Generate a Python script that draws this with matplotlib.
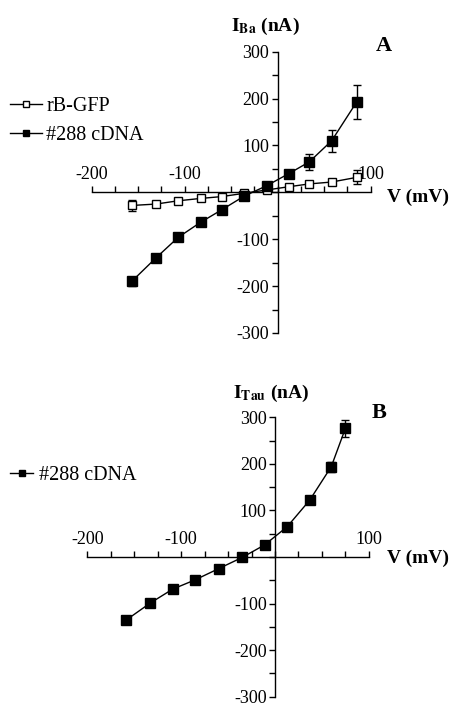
import numpy as np
import matplotlib
matplotlib.use("Agg")
from matplotlib import pyplot as plt
from matplotlib.ticker import FixedLocator, MultipleLocator

plt.rcParams['font.family'] = ['Liberation Serif', 'DejaVu Serif']
plt.rcParams['mathtext.fontset'] = 'stix'
plt.rcParams['axes.unicode_minus'] = False

# ---- dati ----
# pannello A (I_Ba)
vA = [-157, -131, -107, -83, -60, -36, -12, 12, 34, 58, 85]
ibA_288 = [-190, -140, -96, -64, -37, -8, 14, 40, 65, 110, 193]
errA_288 = [10, 5, 4, 4, 4, 4, 4, 4, 17, 23, 36]
ibA_gfp = [-28, -25, -18, -13, -9, -2, 5, 12, 18, 22, 32]
errA_gfp = [11, 4, 4, 4, 4, 4, 4, 4, 4, 4, 15]

# pannello B (I_Tau)
vB = [-159, -133, -109, -85, -60, -35, -11, 13, 37, 60, 75]
itB_288 = [-136, -99, -69, -49, -25, -1, 26, 65, 122, 194, 276]
errB_288 = [4, 4, 4, 4, 4, 4, 4, 4, 5, 11, 18]

xticks_lab = [-200, -100, 100]
yticks_lab = [-300, -200, -100, 100, 200, 300]

fig = plt.figure(figsize=(4.52, 7.05), dpi=100)
axA = fig.add_axes([91.7/452, 1-333/705, 279/452, 281.3/705])
axB = fig.add_axes([87.3/452, 1-696.7/705, 281.5/452, 279.4/705])


def assi(ax):
    ax.set_xlim(-200, 100)
    ax.set_ylim(-300, 300)
    for s in ['top', 'right']:
        ax.spines[s].set_visible(False)
    ax.spines['left'].set_position(('data', 0))
    ax.spines['bottom'].set_position(('data', 0))
    ax.spines['left'].set_linewidth(1)
    ax.spines['bottom'].set_linewidth(1)
    ax.xaxis.set_major_locator(FixedLocator(xticks_lab))
    ax.xaxis.set_minor_locator(MultipleLocator(25))
    ax.yaxis.set_major_locator(FixedLocator(yticks_lab))
    ax.yaxis.set_minor_locator(MultipleLocator(50))
    ax.tick_params(axis='x', which='both', direction='in', length=4, width=1,
                   pad=-19, labelsize=13)
    ax.tick_params(axis='y', which='both', direction='out', length=4, width=1,
                   pad=2, labelsize=13)
    ax.patch.set_alpha(0)


assi(axA)
assi(axB)

# pannello A
axA.errorbar(vA, ibA_288, yerr=errA_288, fmt='none', ecolor='black',
             elinewidth=1, capsize=2.8, capthick=1, zorder=2)
axA.errorbar(vA, ibA_gfp, yerr=errA_gfp, fmt='none', ecolor='black',
             elinewidth=1, capsize=2.8, capthick=1, zorder=2)
axA.plot(vA, ibA_gfp, '-s', color='black', mfc='white', mec='black', ms=6,
         mew=1, lw=1, label='rB-GFP', zorder=3)
axA.plot(vA, ibA_288, '-s', color='black', mfc='black', ms=6.5, lw=1,
         label='#288 cDNA', zorder=3)

# pannello B
axB.errorbar(vB, itB_288, yerr=errB_288, fmt='none', ecolor='black',
             elinewidth=1, capsize=2.8, capthick=1, zorder=2)
axB.plot(vB, itB_288, '-s', color='black', mfc='black', ms=6.5, lw=1,
         label='#288 cDNA', zorder=3)

axA.legend(loc='upper left', bbox_to_anchor=(10/452, 1-97/705),
           bbox_transform=fig.transFigure, frameon=False, fontsize=14.5,
           borderpad=0, borderaxespad=0, handlelength=1.6, handletextpad=0.2,
           labelspacing=0.5, markerscale=0.7)
axB.legend(loc='upper left', bbox_to_anchor=(10/452, 1-466/705),
           bbox_transform=fig.transFigure, frameon=False, fontsize=14.5,
           borderpad=0, borderaxespad=0, handlelength=1.15, handletextpad=0.3,
           markerscale=0.7)

# etichette
fig.text(265/452, 1-26/705, r'$\mathbf{I}_{\mathbf{Ba}}$ (nA)', fontsize=14,
         fontweight='bold', ha='center', va='center')
fig.text(384/452, 1-46/705, 'A', fontsize=16, fontweight='bold',
         ha='center', va='center')
fig.text(387/452, 1-197/705, 'V (mV)', fontsize=14, fontweight='bold',
         ha='left', va='center')

fig.text(271/452, 1-393/705, r'$\mathbf{I}_{\mathbf{Tau}}$ (nA)', fontsize=14,
         fontweight='bold', ha='center', va='center')
fig.text(379/452, 1-413/705, 'B', fontsize=16, fontweight='bold',
         ha='center', va='center')
fig.text(387/452, 1-558/705, 'V (mV)', fontsize=14, fontweight='bold',
         ha='left', va='center')

plt.savefig('out.png', dpi=100)
